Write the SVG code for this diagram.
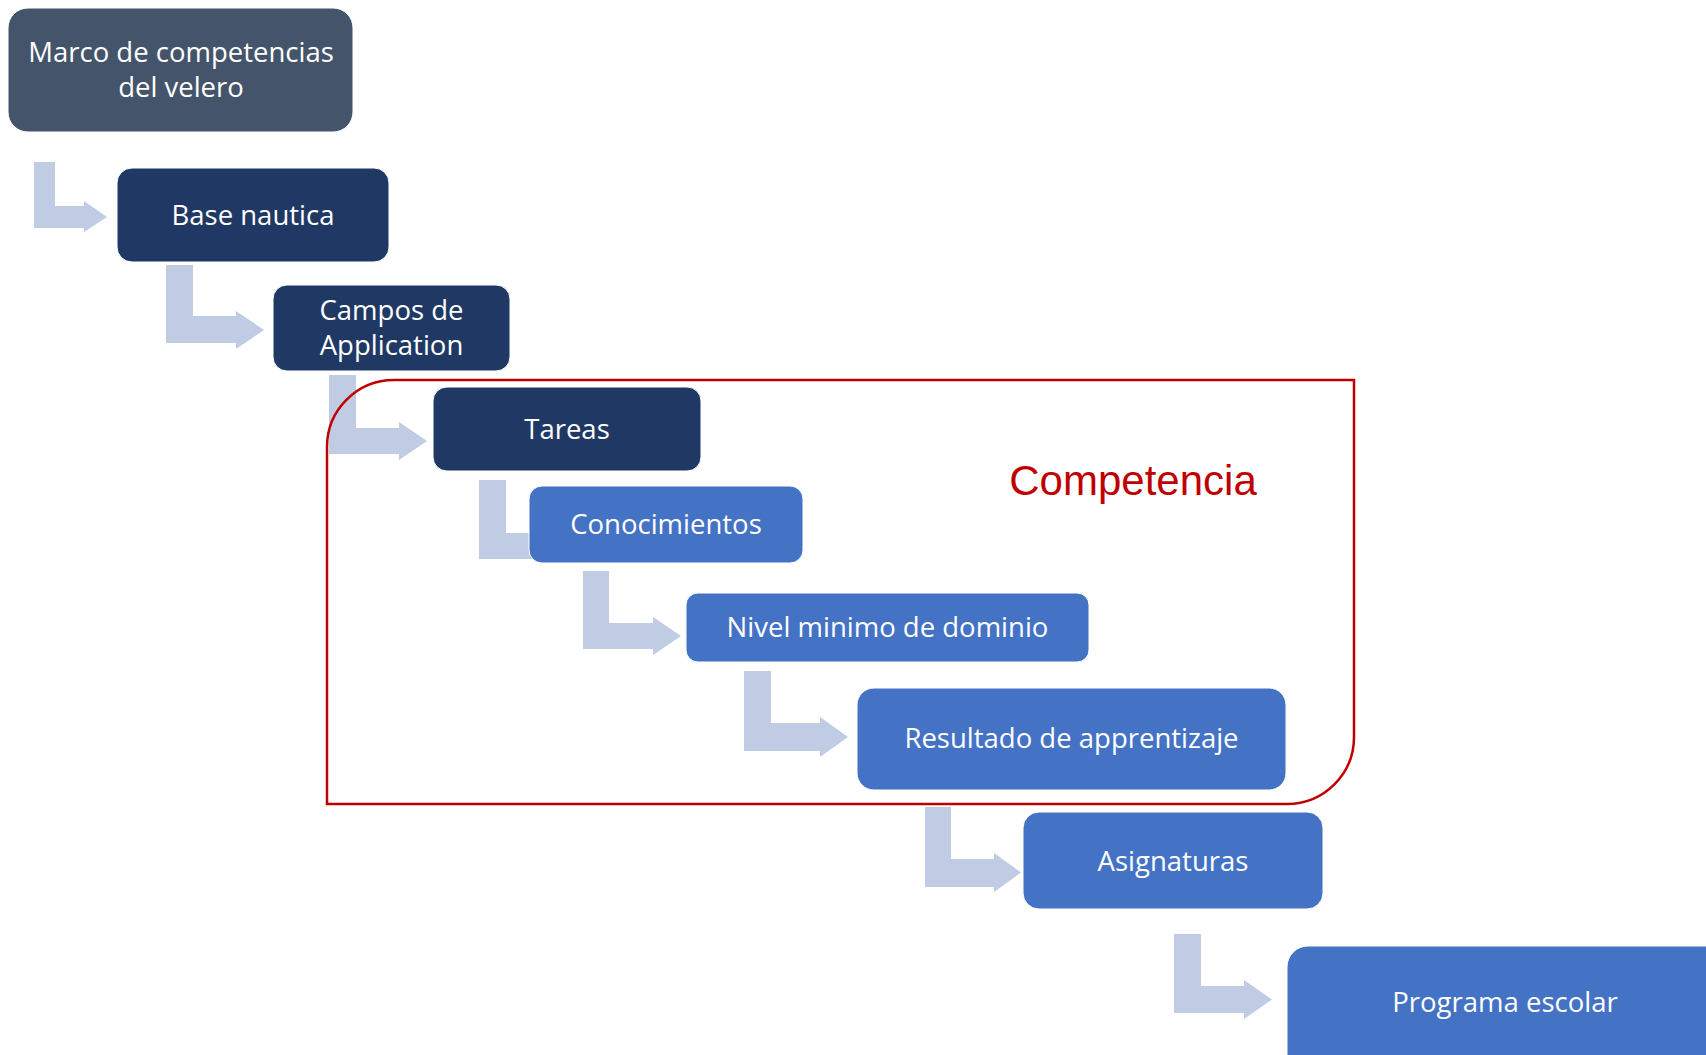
<svg xmlns="http://www.w3.org/2000/svg" width="1706" height="1055" viewBox="0 0 1706 1055">
<style>
.arrow{fill:#C0CBE4;stroke:none}
.n rect{stroke:#ffffff;stroke-width:1}
.dark rect{fill:#203864}
.mid rect{fill:#4472C4}
.n text{font-family:"Open Sans","Noto Sans",sans-serif;font-size:27.5px;fill:#ffffff;text-anchor:middle}
.frame{fill:none;stroke:#C00000;stroke-width:2.5}
.title{font-family:"Liberation Sans",Arial,sans-serif;font-size:42px;fill:#C00000}
</style>
<rect width="1706" height="1055" fill="#ffffff"/>
<g id="connectors">
<path class="arrow" d="M34,162 H55 V206 H84 V201 L107,217 L84,232 V228 H34 Z"/>
<path class="arrow" d="M166,265 H193 V316 H236 V311 L264,330 L236,349 V343 H166 Z"/>
<path class="arrow" d="M329,375 H356 V428 H399 V422 L427,441 L399,460 V454 H329 Z"/>
<path class="arrow" d="M479,480 H506 V533 H540 V559 H479 Z"/>
<path class="arrow" d="M583,571 H609 V623 H653 V617 L681,636 L653,655 V649 H583 Z"/>
<path class="arrow" d="M744,671 H771 V723 H820 V717 L848,737 L820,757 V751 H744 Z"/>
<path class="arrow" d="M925,807 H951 V859 H994 V853 L1021,872.5 L994,892 V887 H925 Z"/>
<path class="arrow" d="M1174,934 H1201 V986 H1244 V980 L1272,999.5 L1244,1019 V1013 H1174 Z"/>
</g>
<g id="competencia">
<path class="frame" d="M394,380 H1354 V737 A67,67 0 0 1 1287,804 H327 V447 A67,67 0 0 1 394,380 Z"/>
<text class="title" x="1133" y="495" text-anchor="middle">Competencia</text>
</g>
<g id="marco" class="n">
<rect x="8" y="8" width="345" height="124" rx="20" fill="#44546A"/>
<text x="181" y="62">Marco de competencias</text>
<text x="181" y="97">del velero</text>
</g>
<g id="base-nautica" class="n dark">
<rect x="117" y="168" width="272" height="94" rx="15"/>
<text x="253" y="225">Base nautica</text>
</g>
<g id="campos" class="n dark">
<rect x="273" y="285" width="237" height="86" rx="14"/>
<text x="391.5" y="320">Campos de</text>
<text x="391.5" y="355">Application</text>
</g>
<g id="tareas" class="n dark">
<rect x="433" y="387" width="268" height="84" rx="14"/>
<text x="567" y="439">Tareas</text>
</g>
<g id="conocimientos" class="n mid">
<rect x="529" y="486" width="274" height="77" rx="13"/>
<text x="666" y="534">Conocimientos</text>
</g>
<g id="nivel" class="n mid">
<rect x="686" y="593" width="403" height="69" rx="12"/>
<text x="887.5" y="637">Nivel minimo de dominio</text>
</g>
<g id="resultado" class="n mid">
<rect x="857" y="688" width="429" height="102" rx="17"/>
<text x="1071.5" y="748">Resultado de apprentizaje</text>
</g>
<g id="asignaturas" class="n mid">
<rect x="1023" y="812" width="300" height="97" rx="16"/>
<text x="1173" y="871">Asignaturas</text>
</g>
<g id="programa" class="n mid">
<rect x="1287" y="946" width="440" height="140" rx="21"/>
<text x="1505" y="1012">Programa escolar</text>
</g>
</svg>
